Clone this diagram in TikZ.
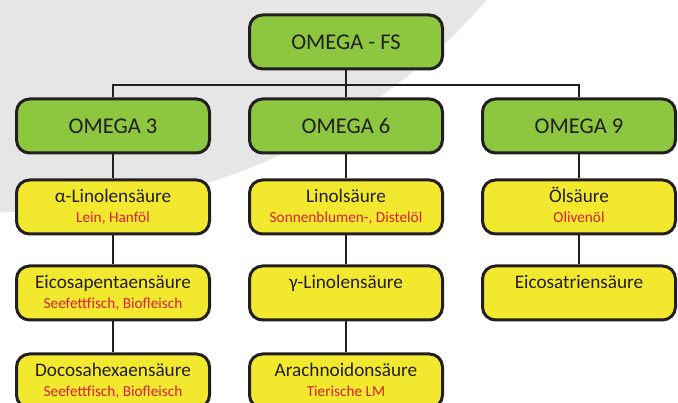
\documentclass[tikz,border=0pt]{standalone}
\usepackage{fontspec}
\setmainfont{Carlito}
\usetikzlibrary{positioning}
\definecolor{OmGreen}{HTML}{8DC63F}
\definecolor{OmYellow}{HTML}{F2E92E}
\definecolor{OmBorder}{HTML}{231F20}
\definecolor{OmSource}{HTML}{D91F3A}
\definecolor{OmBack}{HTML}{E6E6E6}
% acid name on top, food source below in red
\newcommand{\acid}[2]{\rule{0pt}{17pt}#1\\{\color{OmSource}\fontsize{15.3}{19.5}\selectfont #2\rule[-6pt]{0pt}{6pt}}}

\begin{document}
\begin{tikzpicture}[x=1pt,y=-1pt,
  gbox/.style={draw=OmBorder,fill=OmGreen,line width=3pt,
    rounded corners=13pt,minimum width=193pt,minimum height=54pt,
    text=OmBorder,font=\fontsize{22.5}{24}\selectfont},
  ybox/.style={draw=OmBorder,fill=OmYellow,line width=3pt,
    rounded corners=13pt,minimum width=193pt,minimum height=54pt,
    text=OmBorder,align=center,inner sep=0pt,
    font=\fontsize{19.2}{19.5}\selectfont},
  conn/.style={draw=OmBorder,line width=2.4pt}
]
\useasboundingbox (0,0) rectangle (678,403);
\begin{scope}
  \clip (0,0) rectangle (678,403);
  \fill[OmBack] (20,-408) circle (620pt);
\end{scope}
\node[gbox] (fs) at (346,42) {OMEGA - FS};
\node[gbox,below=27pt of fs] (o6) {OMEGA 6};
\node[gbox,left=37pt of o6]  (o3) {OMEGA 3};
\node[gbox,right=37pt of o6] (o9) {OMEGA 9};
% omega 3 column
\node[ybox,below=24pt of o3]  (ala) {\acid{α-Linolensäure}{Lein, Hanföl}};
\node[ybox,below=29pt of ala] (epa) {\acid{Eicosapentaensäure}{Seefettfisch, Biofleisch}};
\node[ybox,below=31pt of epa] (dha) {\acid{Docosahexaensäure}{Seefettfisch, Biofleisch}};
% omega 6 column
\node[ybox,below=24pt of o6]  (la)  {\acid{Linolsäure}{Sonnenblumen-, Distelöl}};
\node[ybox,below=29pt of la]  (gla) {\acid{γ-Linolensäure}{}};
\node[ybox,below=31pt of gla] (ara) {\acid{Arachnoidonsäure}{Tierische LM}};
% omega 9 column
\node[ybox,below=24pt of o9]  (ola) {\acid{Ölsäure}{Olivenöl}};
\node[ybox,below=29pt of ola] (eta) {\acid{Eicosatriensäure}{}};
\coordinate (bus) at ([yshift=-14.5pt]fs.south);
\draw[conn] (fs.south) -- (o6.north);
\draw[conn] (o3.north) |- (bus) -| (o9.north);
\draw[conn] (o3.south) -- (ala.north);
\draw[conn] (ala.south) -- (epa.north);
\draw[conn] (epa.south) -- (dha.north);
\draw[conn] (o6.south) -- (la.north);
\draw[conn] (la.south) -- (gla.north);
\draw[conn] (gla.south) -- (ara.north);
\draw[conn] (o9.south) -- (ola.north);
\draw[conn] (ola.south) -- (eta.north);
\end{tikzpicture}
\end{document}
